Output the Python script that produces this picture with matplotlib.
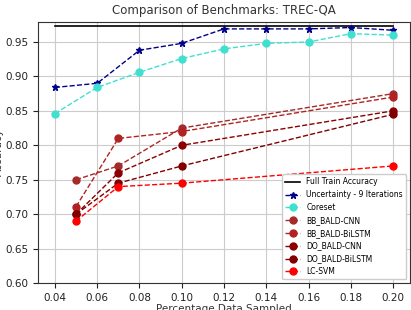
import matplotlib
matplotlib.use("Agg")
import matplotlib.pyplot as plt

# percentage of data sampled
x_full = [0.04, 0.20]
x_unc = [0.04, 0.06, 0.08, 0.10, 0.12, 0.14, 0.16, 0.18, 0.20]
x_red = [0.05, 0.07, 0.10, 0.20]

full_train = [0.973, 0.973]
uncertainty = [0.884, 0.890, 0.938, 0.948, 0.969, 0.969, 0.969, 0.971, 0.967]
coreset = [0.846, 0.884, 0.906, 0.926, 0.940, 0.948, 0.950, 0.962, 0.960]
bb_bald_cnn = [0.750, 0.770, 0.825, 0.875]
bb_bald_bilstm = [0.711, 0.810, 0.820, 0.870]
do_bald_cnn = [0.700, 0.760, 0.800, 0.850]
do_bald_bilstm = [0.700, 0.745, 0.770, 0.845]
lc_svm = [0.690, 0.740, 0.745, 0.770]

fig = plt.figure(figsize=(4.11, 3.10), dpi=100)
ax = fig.add_axes([0.0925, 0.087, 0.905, 0.842])

ax.plot(x_full, full_train, color="black", lw=1.2, label="Full Train Accuracy")
ax.plot(x_unc, uncertainty, "--", color="darkblue", marker="*", ms=5, lw=1,
        label="Uncertainty - 9 Iterations")
ax.plot(x_unc, coreset, "--", color="turquoise", marker="o", ms=5, lw=1,
        label="Coreset")
ax.plot(x_red, bb_bald_cnn, "--", color="brown", marker="o", ms=5, lw=1,
        label="BB_BALD-CNN")
ax.plot(x_red, bb_bald_bilstm, "--", color="firebrick", marker="o", ms=5, lw=1,
        label="BB_BALD-BiLSTM")
ax.plot(x_red, do_bald_cnn, "--", color="darkred", marker="o", ms=5, lw=1,
        label="DO_BALD-CNN")
ax.plot(x_red, do_bald_bilstm, "--", color="maroon", marker="o", ms=5, lw=1,
        label="DO_BALD-BiLSTM")
ax.plot(x_red, lc_svm, "--", color="red", marker="o", ms=5, lw=1,
        label="LC-SVM")

ax.set_ylim(0.60, 0.979)
ax.set_xticks([0.04, 0.06, 0.08, 0.10, 0.12, 0.14, 0.16, 0.18, 0.20])
ax.grid(True, color="#cccccc", lw=0.8)
for s in ax.spines.values():
    s.set_color("#333333")
ax.tick_params(labelsize=7.5, colors="#222222")
ax.set_title("Comparison of Benchmarks: TREC-QA", fontsize=8.5, color="#333333")
ax.set_xlabel("Percentage Data Sampled", fontsize=7.5, labelpad=1, color="#333333")
ax.set_ylabel("Accuracy", fontsize=7.5, labelpad=1, color="#333333")
ax.legend(loc="lower right", fontsize=5.5, framealpha=1)

fig.savefig("out.png", dpi=100)
